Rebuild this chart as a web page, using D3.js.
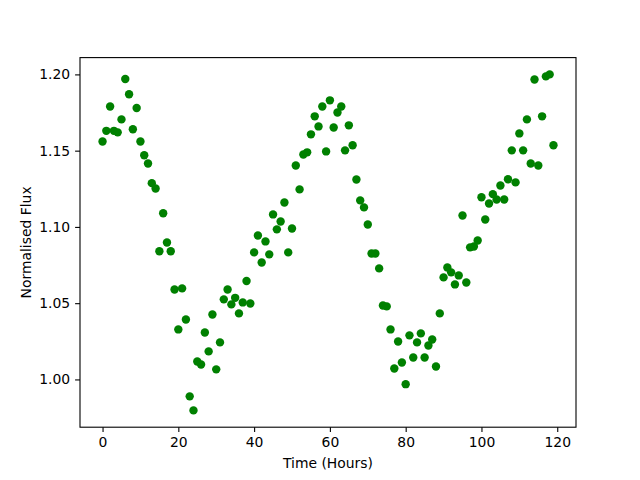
<!DOCTYPE html>
<html>
<head>
<meta charset="utf-8">
<style>
body {
  margin: 0;
  background: #fff;
}
text {
  font-family: "DejaVu Sans", sans-serif;
}
</style>
</head>
<body>
<script src="https://d3js.org/d3.v7.min.js"></script>
<script>

var hours = d3.range(0, 120);

var flux = [
  1.156, 1.163, 1.179, 1.163, 1.162, 1.1705, 1.197, 1.187, 1.164, 1.178,
  1.156, 1.147, 1.1416, 1.1287, 1.1252, 1.084, 1.109, 1.0898, 1.084, 1.059,
  1.0328, 1.0597, 1.0393, 0.9889, 0.9797, 1.0118, 1.0098, 1.0308, 1.0184, 1.0426,
  1.0066, 1.0243, 1.0525, 1.059, 1.0492, 1.0535, 1.0433, 1.0505, 1.0645, 1.0498,
  1.0833, 1.0944, 1.0767, 1.0905, 1.082, 1.1082, 1.0984, 1.1036, 1.116, 1.0833,
  1.099, 1.1403, 1.1246, 1.1475, 1.1489, 1.1607, 1.1725, 1.1659, 1.179, 1.1495,
  1.183, 1.1652, 1.175, 1.179, 1.1502, 1.1666, 1.1535, 1.1311, 1.1174, 1.1128,
  1.1016, 1.0826, 1.0826, 1.0728, 1.0485, 1.0479, 1.0328, 1.0072, 1.0249, 1.0111,
  0.9969, 1.0289, 1.0144, 1.0243, 1.0302, 1.0144, 1.0223, 1.0262, 1.0085, 1.0433,
  1.0669, 1.0734, 1.0702, 1.0623, 1.0682, 1.1075, 1.0636, 1.0866, 1.0872, 1.0911,
  1.1195, 1.1049, 1.1154, 1.1215, 1.118, 1.1272, 1.118, 1.1313, 1.1502, 1.1292,
  1.1613, 1.1502, 1.1705, 1.1416, 1.1967, 1.1403, 1.1725, 1.1987, 1.2, 1.1535
];

var xTicks = [0, 20, 40, 60, 80, 100, 120];
var yTicks = [1.00, 1.05, 1.10, 1.15, 1.20];

var width = 640,
    height = 480,
    plotLeft = 80, plotRight = 576,
    plotTop = 57.6, plotBottom = 427.2;

var svg = d3.select("body")
    .append("svg")
    .attr("width", width)
    .attr("height", height);

// matplotlib style 5% padding around the data
var xExt = d3.extent(hours), xPad = (xExt[1] - xExt[0]) * 0.05;
var yExt = d3.extent(flux), yPad = (yExt[1] - yExt[0]) * 0.05;

var x = d3.scaleLinear()
    .domain([xExt[0] - xPad, xExt[1] + xPad])
    .range([plotLeft, plotRight]);

var y = d3.scaleLinear()
    .domain([yExt[0] - yPad, yExt[1] + yPad])
    .range([plotBottom, plotTop]);

svg.selectAll(".dot")
    .data(hours)
    .enter()
    .append("circle")
    .attr("class", "dot")
    .attr("cx", function(d) { return x(d); })
    .attr("cy", function(d, i) { return y(flux[i]); })
    .attr("r", 4.2)
    .style("fill", "#008000");

var xAxis = svg.append("g")
    .attr("transform", "translate(0," + plotBottom + ")")
    .call(d3.axisBottom(x).tickValues(xTicks).tickSize(4.9).tickPadding(4.9).tickFormat(d3.format("d")));

var yAxis = svg.append("g")
    .attr("transform", "translate(" + plotLeft + ",0)")
    .call(d3.axisLeft(y).tickValues(yTicks).tickSize(4.9).tickPadding(4.9).tickFormat(d3.format(".2f")));

[xAxis, yAxis].forEach(function(g) {
  g.select(".domain").remove();
  g.selectAll(".tick line").attr("stroke", "#000").attr("stroke-width", 1.1);
  g.selectAll(".tick text")
      .attr("fill", "#000")
      .style("font-size", "13.9px")
      .style("font-family", "DejaVu Sans");
});

svg.append("rect")
    .attr("x", plotLeft)
    .attr("y", plotTop)
    .attr("width", plotRight - plotLeft)
    .attr("height", plotBottom - plotTop)
    .style("fill", "none")
    .style("stroke", "#000")
    .style("stroke-width", 1.1);

svg.append("text")
    .attr("x", (plotLeft + plotRight) / 2)
    .attr("y", 468)
    .attr("text-anchor", "middle")
    .style("font-size", "13.9px")
    .text("Time (Hours)");

svg.append("text")
    .attr("transform", "translate(31," + (plotTop + plotBottom) / 2 + ") rotate(-90)")
    .attr("text-anchor", "middle")
    .style("font-size", "13.9px")
    .text("Normalised Flux");

</script>
</body>
</html>
